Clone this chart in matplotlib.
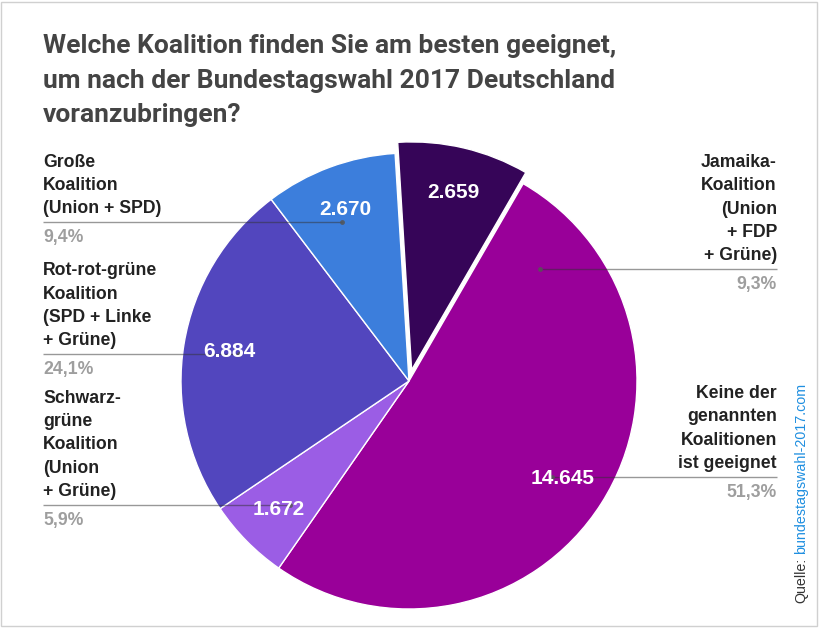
import matplotlib
matplotlib.use("Agg")
import matplotlib.pyplot as plt
from matplotlib.patches import Rectangle
import numpy as np

# ---------------- data ----------------
categories = [
    "Jamaika-Koalition (Union + FDP + Grüne)",
    "Keine der genannten Koalitionen ist geeignet",
    "Schwarz-grüne Koalition (Union + Grüne)",
    "Rot-rot-grüne Koalition (SPD + Linke + Grüne)",
    "Große Koalition (Union + SPD)",
]
label_lines = [
    ["Jamaika-", "Koalition", "(Union", "+ FDP", "+ Grüne)"],
    ["Keine der", "genannten", "Koalitionen", "ist geeignet"],
    ["Schwarz-", "grüne", "Koalition", "(Union", "+ Grüne)"],
    ["Rot-rot-grüne", "Koalition", "(SPD + Linke", "+ Grüne)"],
    ["Große", "Koalition", "(Union + SPD)"],
]
votes = [2659, 14645, 1672, 6884, 2670]
colors = ["#360558", "#990099", "#9b5de5", "#5246be", "#3c7edc"]
title_lines = [
    "Welche Koalition finden Sie am besten geeignet,",
    "um nach der Bundestagswahl 2017 Deutschland",
    "voranzubringen?",
]

total = sum(votes)
percent_labels = [f"{100 * v / total:.1f}".replace(".", ",") + "%" for v in votes]

# ---------------- layout (pixels) ----------------
W, H = 820, 628
cx, cy_px, R = 409, 381, 228
sides = ["right", "right", "left", "left", "left"]
line_y = [269.3, 477.0, 505.0, 354.3, 222.3]
LEFT_X, RIGHT_X = 43, 777
LABEL_FS = 12.7
LINE_STEP = 23.3


def py(y):
    return H - y


def fmt(p):
    v = int(round(p * total / 100.0))
    return f"{v:,}".replace(",", ".")


fig = plt.figure(figsize=(W / 100, H / 100), dpi=100)
ax = fig.add_axes([0, 0, 1, 1])

wedges, texts, autotexts = ax.pie(
    votes,
    colors=colors,
    startangle=93.5,
    counterclock=False,
    center=(cx, py(cy_px)),
    radius=R,
    explode=[0.05 * R, 0, 0, 0, 0],
    autopct=fmt,
    pctdistance=0.8,
    wedgeprops=dict(edgecolor="white", linewidth=1.0),
    textprops=dict(color="white", fontsize=15, fontweight="bold",
                   family="Liberation Sans"),
)
for t in autotexts:
    t.set_zorder(6)

ax.set_xlim(0, W)
ax.set_ylim(0, H)
ax.set_aspect("auto")
ax.axis("off")

# border
ax.add_patch(Rectangle((1.5, py(625.5)), 816, 624, fill=False,
                       edgecolor="#d0d0d0", linewidth=1.0, zorder=0))

# title
title_base = [53.0, 88.0, 122.0]
for t, b in zip(title_lines, title_base):
    ax.text(LEFT_X, py(b), t, ha="left", va="baseline", fontsize=19,
            fontweight="bold", color="#444444", family="Roboto")

# labels with leader lines
r_anchor = 0.755 * R
for lines, pct, side, Y in zip(label_lines, percent_labels, sides, line_y):
    left = side == "left"
    x_text = LEFT_X if left else RIGHT_X
    ha = "left" if left else "right"
    for k, t in enumerate(reversed(lines)):
        ax.text(x_text, py(Y - 9 - LINE_STEP * k), t, ha=ha, va="baseline",
                fontsize=LABEL_FS, fontweight="bold", color="#222222",
                family="Liberation Sans")
    ax.text(x_text, py(Y + 19.5), pct, ha=ha, va="baseline",
            fontsize=LABEL_FS, fontweight="bold", color="#9e9e9e",
            family="Liberation Sans")
    dy = py(Y) - py(cy_px)
    dx = np.sqrt(max(r_anchor ** 2 - dy ** 2, 0))
    xa = cx - dx if left else cx + dx
    ax.plot([x_text, xa], [py(Y), py(Y)], color="#333333", alpha=0.5,
            lw=1.0, zorder=4, solid_capstyle="butt")
    ax.plot([xa], [py(Y)], marker="o", ms=3.5, color="#555555",
            alpha=0.85, zorder=4, markeredgewidth=0)

# source
t1 = ax.text(801, py(603), "Quelle:", rotation=90, ha="center", va="bottom",
             fontsize=10.3, color="#333333", family="Liberation Sans")
ax.annotate("bundestagswahl-2017.com", xy=(0.5, 1), xycoords=t1,
            xytext=(0, 4), textcoords="offset pixels",
            rotation=90, ha="center", va="bottom", fontsize=10.3,
            color="#1f8fe0", family="Liberation Sans")

fig.savefig("out.png", dpi=100)
